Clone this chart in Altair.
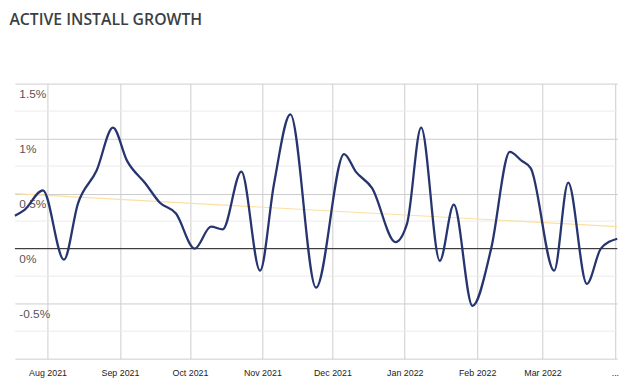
import altair as alt
import pandas as pd

# --- data ---------------------------------------------------------------
dates = ["2021-07-18", "2021-07-22", "2021-07-30", "2021-08-08", "2021-08-14",
         "2021-08-22", "2021-08-29", "2021-09-04", "2021-09-12", "2021-09-18",
         "2021-09-25", "2021-10-03", "2021-10-10", "2021-10-15", "2021-10-23",
         "2021-10-31", "2021-11-06", "2021-11-13", "2021-11-24", "2021-12-06",
         "2021-12-11", "2021-12-18", "2021-12-28", "2022-01-02", "2022-01-08",
         "2022-01-16", "2022-01-22", "2022-01-30", "2022-02-07", "2022-02-15",
         "2022-02-20", "2022-02-24", "2022-03-06", "2022-03-12", "2022-03-20",
         "2022-03-26", "2022-04-02"]
growth = [0.30, 0.35, 0.53, -0.10, 0.41, 0.71, 1.10, 0.80, 0.59, 0.42,
          0.32, 0.00, 0.20, 0.175, 0.70, -0.20, 0.59, 1.22, -0.355, 0.86,
          0.70, 0.55, 0.06, 0.23, 1.10, -0.11, 0.40, -0.52, 0.00, 0.88,
          0.80, 0.73, -0.20, 0.60, -0.32, 0.00, 0.09]

trend_dates = ["2021-07-18", "2022-04-02"]
trend_values = [0.50, 0.20]

zero_value = [0]

y_major_ticks = [-1, -0.5, 0, 0.5, 1, 1.5]
y_minor_ticks = [-0.75, -0.25, 0.25, 0.75, 1.25]
month_ticks = [(2021, 8), (2021, 9), (2021, 10), (2021, 11), (2021, 12),
               (2022, 1), (2022, 2), (2022, 3), (2022, 4)]

df = pd.DataFrame({"date": dates, "growth": growth})
trend_df = pd.DataFrame({"date": trend_dates, "growth": trend_values})
zero_df = pd.DataFrame({"growth": zero_value})
minor_df = pd.DataFrame({"growth": y_minor_ticks})

x_scale = alt.Scale(
    type="utc",
    domain=[alt.DateTime(year=2021, month=7, date=18, utc=True),
            alt.DateTime(year=2022, month=4, date=2, utc=True)],
    nice=False,
)
y_scale = alt.Scale(domain=[-1, 1.5], nice=False)

x_axis = alt.Axis(
    values=[alt.DateTime(year=y, month=m, date=1, utc=True) for y, m in month_ticks],
    labelExpr="utcmonth(datum.value) == 3 ? '...' : utcFormat(datum.value, '%b %Y')",
    grid=True, gridColor="#cccccc", domain=False, ticks=False,
    labelPadding=10, labelFontSize=9, labelColor="#222222",
    labelFont="Liberation Sans", title=None,
)
y_axis = alt.Axis(
    values=y_major_ticks,
    labelExpr="datum.value > -1 ? datum.value + '%' : ''",
    grid=True, gridColor="#cccccc",
    domain=False, ticks=False, labelAlign="left", labelBaseline="top",
    labelPadding=-4, labelOffset=5, labelFontSize=12, labelColor="#555555",
    labelFont="Liberation Sans", title=None,
)

base_x = alt.X("date:T", scale=x_scale, axis=x_axis)
base_y = alt.Y("growth:Q", scale=y_scale, axis=y_axis)

minor = alt.Chart(minor_df).mark_rule(color="#ebebeb", strokeWidth=1).encode(
    y=alt.Y("growth:Q", scale=y_scale)
)

line = alt.Chart(df).mark_line(
    interpolate="monotone", color="#26346f", strokeWidth=2.3
).encode(x=base_x, y=base_y)

trend = alt.Chart(trend_df).mark_line(
    color="#fbe0a0", strokeWidth=1.2
).encode(x=alt.X("date:T", scale=x_scale), y=alt.Y("growth:Q", scale=y_scale))

zero = alt.Chart(zero_df).mark_rule(color="#222222", strokeWidth=1).encode(
    y=alt.Y("growth:Q", scale=y_scale)
)

chart = alt.layer(minor, trend, zero, line).properties(
    width=611,
    height=279,
    padding={"left": 1, "top": 2, "right": 10, "bottom": 4},
    title=alt.TitleParams(
        "ACTIVE INSTALL GROWTH", anchor="start", font="Open Sans",
        fontSize=16, fontWeight=600, color="#3a3f45", offset=56, dx=-1,
    ),
).configure_view(stroke=None)

chart.save("out.html", embed_options={"renderer": "svg", "actions": False})
